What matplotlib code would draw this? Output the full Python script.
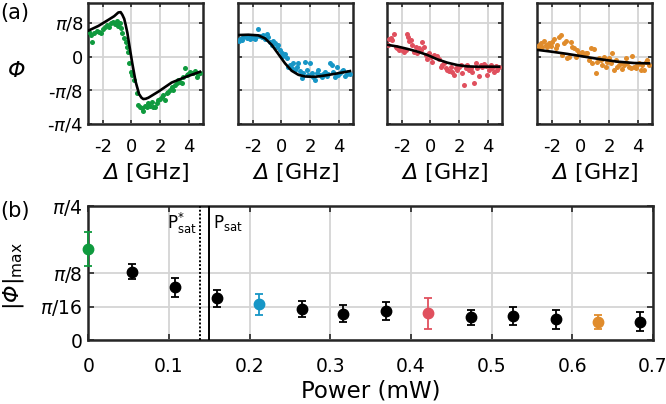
import numpy as np
import matplotlib
matplotlib.use("Agg")
import matplotlib.pyplot as plt

plt.rcParams['font.family'] = ['DejaVu Sans']
plt.rcParams['mathtext.fontset'] = 'custom'
# math "rm"/"it" are italic (for Greek letters), "sf" is upright for plain parts
plt.rcParams['mathtext.rm'] = 'DejaVu Sans:italic'
plt.rcParams['mathtext.it'] = 'DejaVu Sans:italic'
plt.rcParams['mathtext.sf'] = 'DejaVu Sans'
plt.rcParams['mathtext.bf'] = 'DejaVu Sans:bold'

# ---------------- data (a) ----------------
# panel 1 (green)
det1 = [-2.95, -2.81, -2.72, -2.58, -2.42, -2.26, -2.12, -1.96, -1.84, -1.72, -1.56, -1.42,
        -1.26, -1.14, -1.03, -0.91, -0.80, -0.73, -0.63, -0.49, -0.40, -0.33, -0.22, -0.15,
        -0.03, 0.06, 0.20, 0.36, 0.48, 0.60, 0.71, 0.83, 0.94, 1.06, 1.18, 1.32, 1.41, 1.52,
        1.64, 1.76, 1.87, 1.99, 2.10, 2.22, 2.34, 2.45, 2.57, 2.68, 2.80, 2.92, 3.03, 3.15,
        3.26, 3.38, 3.50, 3.61, 3.73, 3.84, 3.96, 4.08, 4.19, 4.31, 4.42, 4.54, 4.66, 4.77]
phi1 = [0.74, 0.64, 0.42, 0.69, 0.77, 0.74, 0.69, 0.81, 0.87, 0.94, 0.89, 0.99,
        1.03, 0.97, 1.07, 0.91, 1.01, 0.84, 0.69, 0.54, 0.42, 0.30, 0.15, -0.20,
        -0.45, -0.54, -0.69, -1.09, -1.44, -1.49, -1.53, -1.60, -1.47, -1.50, -1.39, -1.47, -1.34, -1.49,
        -1.50, -1.39, -1.29, -1.27, -1.21, -1.14, -1.29, -1.09, -1.04, -0.99, -0.91, -0.99, -0.84, -0.79,
        -0.69, -0.74, -0.77, -0.61, -0.35, -0.54, -0.51, -0.45, -0.48, -0.50, -0.42, -0.61, -0.51, -0.48]
fit1_x = [-3.0, -2.30, -1.61, -1.20, -0.91, -0.75, -0.63, -0.50, -0.40, -0.28, -0.17, 0.06, 0.29, 0.53, 0.70, 0.83, 1.00, 1.18, 1.87, 2.80, 3.73, 4.77]
fit1_y = [0.77, 0.91, 1.09, 1.20, 1.31, 1.32, 1.24, 1.12, 0.94, 0.70, 0.40, -0.20, -0.74, -1.11, -1.22, -1.26, -1.25, -1.22, -1.04, -0.77, -0.61, -0.45]

# shared detuning grid for panels 2 and 4
det24 = [-2.95, -2.88, -2.77, -2.65, -2.54, -2.42, -2.30, -2.19, -2.07, -1.96, -1.84, -1.72,
         -1.61, -1.49, -1.38, -1.26, -1.14, -1.03, -0.91, -0.80, -0.68, -0.56, -0.45, -0.33,
         -0.22, -0.10, 0.02, 0.13, 0.25, 0.36, 0.48, 0.60, 0.71, 0.83, 0.94, 1.06,
         1.18, 1.29, 1.41, 1.52, 1.64, 1.76, 1.87, 1.99, 2.10, 2.22, 2.34, 2.45,
         2.57, 2.68, 2.80, 2.92, 3.03, 3.15, 3.26, 3.38, 3.50, 3.61, 3.73, 3.84,
         3.96, 4.08, 4.19, 4.31, 4.42, 4.54, 4.66, 4.77]
# panel 2 (blue)
phi2 = [0.45, 0.51, 0.50, 0.57, 0.61, 0.54, 0.57, 0.51, 0.59, 0.54, 0.51, 0.61,
        0.81, 0.61, 0.57, 0.64, 0.51, 0.67, 0.57, 0.42, 0.35, 0.45, 0.40, 0.28,
        0.35, 0.20, 0.10, 0.02, 0.08, -0.05, -0.30, -0.25, -0.35, -0.20, -0.40, -0.30,
        -0.20, -0.42, -0.64, -0.50, -0.15, -0.40, -0.54, -0.18, -0.48, -0.61, -0.69, -0.48,
        -0.40, -0.54, -0.61, -0.51, -0.45, -0.59, -0.51, -0.18, -0.25, -0.45, -0.61, -0.30,
        -0.54, -0.48, -0.42, -0.40, -0.57, -0.51, -0.45, -0.51]
fit2_x = [-3.0, -2.30, -1.61, -1.14, -0.68, -0.22, 0.25, 0.71, 1.18, 1.64, 2.34, 3.03, 3.73, 4.77]
fit2_y = [0.64, 0.65, 0.63, 0.54, 0.35, 0.08, -0.20, -0.42, -0.54, -0.59, -0.60, -0.56, -0.51, -0.43]

# panel 3 (red)
det3 = [-2.95, -2.88, -2.77, -2.65, -2.54, -2.42, -2.30, -2.19, -2.07, -1.96, -1.84, -1.72,
        -1.65, -1.56, -1.49, -1.38, -1.26, -1.14, -1.03, -0.91, -0.80, -0.68, -0.56, -0.45,
        -0.33, -0.22, -0.10, 0.02, 0.13, 0.25, 0.36, 0.48, 0.60, 0.71, 0.83, 0.94,
        1.06, 1.18, 1.29, 1.41, 1.52, 1.64, 1.76, 1.87, 1.99, 2.10, 2.22, 2.34,
        2.45, 2.57, 2.68, 2.80, 2.92, 3.03, 3.15, 3.26, 3.38, 3.50, 3.61, 3.73,
        3.84, 3.96, 4.08, 4.19, 4.31, 4.42, 4.54, 4.66, 4.77]
phi3 = [0.35, 0.51, 0.54, 0.50, 0.66, 0.30, 0.25, 0.20, 0.22, 0.20, 0.15, 0.20,
        0.66, 0.57, 0.45, 0.50, 0.35, 0.15, 0.30, 0.12, 0.25, 0.20, 0.42, 0.30,
        0.05, -0.08, 0.10, 0.00, -0.15, 0.05, 0.00, 0.02, -0.08, -0.30, -0.25, -0.20,
        -0.35, -0.40, -0.42, -0.30, -0.45, -0.54, -0.35, -0.40, -0.30, -0.25, -0.50, -0.84,
        -0.35, -0.25, -0.40, -0.35, -0.45, -0.79, -0.18, -0.35, -0.59, -0.25, -0.30, -0.22,
        -0.28, -0.54, -0.40, -0.25, -0.35, -0.45, -0.28, -0.40, -0.30]
fit3_x = [-3.0, -2.30, -1.61, -0.91, -0.22, 0.48, 1.18, 1.87, 2.57, 3.26, 4.77]
fit3_y = [0.35, 0.30, 0.23, 0.15, 0.05, -0.08, -0.18, -0.25, -0.29, -0.30, -0.30]

# panel 4 (orange)
phi4 = [0.25, 0.35, 0.40, 0.30, 0.45, 0.35, 0.28, 0.40, 0.32, 0.42, 0.51, 0.25,
        0.35, 0.59, 0.64, 0.05, 0.40, 0.45, -0.05, 0.00, 0.42, 0.30, 0.25, 0.00,
        0.20, 0.12, 0.10, 0.15, 0.05, 0.12, 0.10, -0.10, 0.25, -0.20, 0.22, -0.50,
        -0.15, -0.05, -0.10, -0.25, 0.00, -0.30, -0.15, -0.05, -0.20, 0.10, -0.40, -0.10,
        -0.30, -0.25, -0.20, -0.38, -0.25, -0.05, -0.20, -0.30, -0.35, 0.02, -0.30, -0.35,
        -0.25, -0.20, -0.40, -0.25, -0.40, -0.15, -0.10, -0.25]
fit4_x = [-3.0, -2.07, -0.91, 0.25, 1.41, 2.57, 3.73, 4.77]
fit4_y = [0.20, 0.15, 0.08, 0.00, -0.08, -0.15, -0.19, -0.20]

panel_colors = ['#0f9a3e', '#1796c6', '#e0505e', '#e08c2c']
panels = [
    (det1, phi1, fit1_x, fit1_y),
    (det24, phi2, fit2_x, fit2_y),
    (det3, phi3, fit3_x, fit3_y),
    (det24, phi4, fit4_x, fit4_y),
]
unit_a = np.pi / 8  # phase values above are in units of pi/8

# ---------------- data (b) ----------------
power = [0.0, 0.054, 0.107, 0.160, 0.212, 0.265, 0.316, 0.369, 0.421, 0.474, 0.526, 0.580, 0.632, 0.684]
phimax = [2.72, 2.04, 1.57, 1.24, 1.07, 0.92, 0.78, 0.87, 0.80, 0.68, 0.72, 0.62, 0.53, 0.55]  # units of pi/16
phierr = [0.50, 0.22, 0.28, 0.25, 0.31, 0.23, 0.25, 0.26, 0.46, 0.23, 0.26, 0.29, 0.21, 0.28]
point_colors = ['#0f9a3e', 'k', 'k', 'k', '#1796c6', 'k', 'k', 'k', '#e0505e', 'k', 'k', 'k', '#e08c2c', 'k']
unit_b = np.pi / 16
p_sat_star = 0.139
p_sat = 0.150

# ---------------- figure ----------------
W, H = 666, 404
fig = plt.figure(figsize=(W / 100, H / 100), dpi=100)

spine_c = '#262626'
grid_c = '#d4d4d4'


def pi_lab(sign, den):
    return sign + r'$π\mathsf{/' + den + r'}$'


lefts = [88.3, 238.3, 387.3, 537.3]
for i, (dx, dy, fx, fy) in enumerate(panels):
    ax = fig.add_axes([lefts[i] / W, (H - 124) / H, 115 / W, 121.3 / H])
    ax.scatter(dx, np.array(dy) * unit_a, s=13, color=panel_colors[i], linewidths=0, zorder=3)
    ax.plot(fx, np.array(fy) * unit_a, color='k', lw=1.9, zorder=4)
    ax.set_xlim(-3, 5)
    ax.set_ylim(-np.pi / 4, 0.2 * np.pi)
    ax.set_xticks([-2, 0, 2, 4])
    ax.set_xticklabels(['-2', '0', '2', '4'])
    ax.set_yticks([-np.pi / 4, -np.pi / 8, 0, np.pi / 8])
    if i == 0:
        ax.set_yticklabels([pi_lab('-', '4'), pi_lab('-', '8'), '0', pi_lab('', '8')])
    else:
        ax.set_yticklabels([])
    ax.grid(True, color=grid_c, lw=1.3)
    ax.set_axisbelow(True)
    ax.tick_params(axis='x', pad=10)
    ax.tick_params(axis='y', pad=4)
    ax.tick_params(direction='in', length=3, width=1.2, top=True, right=True,
                   labelsize=13, colors=spine_c, labelcolor='k')
    for s in ax.spines.values():
        s.set_linewidth(1.8)
        s.set_color(spine_c)
    cx = (lefts[i] + 57.5) / W
    fig.text(cx, 1 - 173 / H, r'$Δ\mathsf{\ [GHz]}$', fontsize=16, ha='center', va='center')

fig.text(16 / W, 1 - 71 / H, r'$Φ$', fontsize=16, ha='center', va='center')

axb = fig.add_axes([88.3 / W, (H - 340) / H, 564.7 / W, 134 / H])
for p, v, e, c in zip(power, phimax, phierr, point_colors):
    axb.errorbar(p, v * unit_b, yerr=e * unit_b, fmt='o', color=c, ms=7.5, capsize=3,
                 elinewidth=1.3, capthick=1.3, zorder=4, clip_on=False)
axb.axvline(p_sat_star, color='k', lw=1.4, ls=(0, (1, 1)), zorder=3)
axb.axvline(p_sat, color='k', lw=1.4, zorder=3)
axb.text(p_sat_star - 0.004, np.pi / 4 * 0.87, r'P$^{\mathsf{*}}_{\mathsf{sat}}$', ha='right', va='center', fontsize=12)
axb.text(p_sat + 0.004, np.pi / 4 * 0.87, r'P$_{\mathsf{sat}}$', ha='left', va='center', fontsize=12)
axb.set_xlim(0, 0.7)
axb.set_ylim(0, np.pi / 4)
axb.set_xticks([0, 0.1, 0.2, 0.3, 0.4, 0.5, 0.6, 0.7])
axb.set_xticklabels(['0', '0.1', '0.2', '0.3', '0.4', '0.5', '0.6', '0.7'])
axb.set_yticks([0, np.pi / 16, np.pi / 8, np.pi / 4])
axb.set_yticklabels(['0', pi_lab('', '16'), pi_lab('', '8'), pi_lab('', '4')])
axb.grid(True, color=grid_c, lw=1.3)
axb.set_axisbelow(True)
axb.tick_params(axis='x', pad=12)
axb.tick_params(axis='y', pad=4)
axb.tick_params(direction='in', length=4, width=1.2, top=True, right=True,
                labelsize=13.5, colors=spine_c, labelcolor='k')
for s in axb.spines.values():
    s.set_linewidth(1.8)
    s.set_color(spine_c)
fig.text((88.3 + 282.3) / W, 1 - 391 / H, 'Power (mW)', fontsize=16.5, ha='center', va='center')
fig.text(14 / W, 1 - 276 / H, r'$\mathsf{|}Φ\mathsf{|}_{\mathsf{max}}$', fontsize=16, rotation=90,
         ha='center', va='center')

fig.text(0 / W, 1 - 13 / H, '(a)', fontsize=15, va='center', ha='left')
fig.text(0 / W, 1 - 211 / H, '(b)', fontsize=15, va='center', ha='left')

fig.savefig('out.png', dpi=100)
